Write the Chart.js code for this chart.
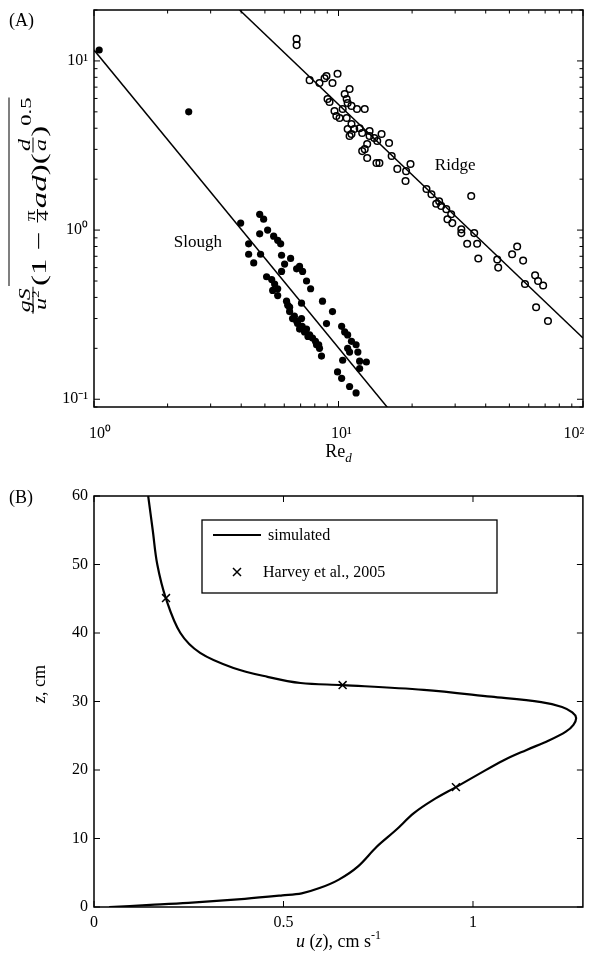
<!DOCTYPE html>
<html>
<head>
<meta charset="utf-8">
<script src="https://cdn.jsdelivr.net/npm/chart.js@4.4.0/dist/chart.umd.min.js"></script>
<style>
  body { margin: 0; background: #fff; width: 590px; height: 956px; overflow: hidden; }
  #topChart { position: absolute; left: 0; top: 0; }
  #bottomChart { position: absolute; left: 0; top: 470px; }
</style>
</head>
<body>
<canvas id="topChart" width="590" height="470"></canvas>
<canvas id="bottomChart" width="590" height="486"></canvas>
<script>
// ---- panel A data (Re_d vs. drag term, log-log) ----
const sloughRe = [1.05, 2.44, 3.98, 4.76, 4.94, 4.76, 5.13, 5.43, 5.64, 5.80, 4.29, 4.80, 4.29, 4.50, 5.85,
  6.37, 6.02, 5.85, 6.93, 7.13, 6.74, 7.40, 7.69, 5.08, 5.33, 5.48, 5.64, 5.38, 5.64, 6.13, 7.06, 8.60,
  6.20, 9.45, 8.93, 6.31, 6.49, 6.74, 7.06, 6.93, 7.26, 7.62, 7.83, 8.13, 8.36, 8.52, 9.91, 10.3, 10.6,
  10.9, 11.3, 11.8, 12.0, 10.9, 11.1, 10.4, 12.2, 13.0, 12.2, 10.3, 11.1, 11.8, 6.31, 6.6, 6.8, 7.1,
  7.4, 7.5, 8.05, 8.3];
const sloughVal = [11.6, 5.0, 1.10, 1.24, 1.16, 0.95, 1.0, 0.92, 0.87, 0.83, 0.83, 0.72, 0.72, 0.64, 0.71,
  0.68, 0.63, 0.57, 0.61, 0.57, 0.59, 0.50, 0.45, 0.53, 0.51, 0.48, 0.45, 0.44, 0.41, 0.38, 0.37, 0.38,
  0.36, 0.33, 0.28, 0.33, 0.30, 0.29, 0.30, 0.26, 0.25, 0.24, 0.23, 0.21, 0.20, 0.18, 0.145, 0.27, 0.25,
  0.24, 0.22, 0.21, 0.19, 0.20, 0.19, 0.17, 0.168, 0.166, 0.152, 0.133, 0.119, 0.109, 0.35, 0.31, 0.28, 0.27,
  0.26, 0.235, 0.22, 0.21];
const ridgeRe = [6.74, 6.74, 7.62, 8.36, 8.77, 8.93, 9.45, 9.91, 9.02, 9.19, 10.6, 11.1, 10.8, 10.9, 11.3,
  11.9, 12.8, 9.63, 9.8, 10.1, 10.8, 10.4, 11.3, 10.9, 11.3, 11.1, 11.6, 12.2, 12.5, 13.4, 13.4, 14.0,
  15.0, 14.4, 16.1, 13.1, 12.8, 12.5, 13.1, 14.3, 14.7, 16.5, 17.4, 18.9, 19.7, 18.8, 22.9, 24.0, 25.1,
  25.8, 26.3, 27.6, 28.9, 27.9, 29.2, 31.8, 31.8, 34.9, 35.9, 33.6, 36.9, 37.3, 44.6, 45.0, 51.3, 53.8,
  56.9, 57.9, 63.7, 65.5, 68.7, 64.3, 71.9];
const ridgeVal = [13.5, 12.4, 7.7, 7.4, 7.9, 8.15, 7.4, 8.4, 5.96, 5.72, 6.38, 6.83, 5.96, 5.64, 5.42,
  5.2, 5.2, 5.06, 4.73, 4.6, 4.6, 5.2, 4.24, 3.96, 3.70, 3.60, 3.96, 4.0, 3.75, 3.85, 3.60, 3.50,
  3.70, 3.36, 3.27, 3.23, 3.01, 2.93, 2.67, 2.49, 2.49, 2.74, 2.30, 2.23, 2.46, 1.95, 1.75, 1.63, 1.43,
  1.48, 1.39, 1.33, 1.24, 1.16, 1.10, 1.01, 0.96, 1.59, 0.96, 0.83, 0.83, 0.68, 0.67, 0.60, 0.72, 0.80,
  0.66, 0.48, 0.54, 0.50, 0.47, 0.35, 0.29];
const sloughFitRe = [1, 16];
const sloughFitVal = [11.6, 0.088];
const ridgeFitRe = [3.94, 100];
const ridgeFitVal = [20, 0.23];
const logLabelTicks = [0.1, 1, 10, 100];

// ---- panel B data (velocity profile) ----
const uSim = [0.143, 0.155, 0.167, 0.19, 0.228, 0.28, 0.368, 0.458, 0.545, 0.656, 0.87, 1.048, 1.18, 1.235,
  1.262, 1.272, 1.265, 1.245, 1.2, 1.14, 1.08, 1.015, 0.955, 0.894, 0.844, 0.796, 0.746, 0.696, 0.646,
  0.597, 0.548, 0.497, 0.398, 0.249, 0.149, 0.04];
const zSim = [60, 55, 50, 45, 40, 37.1, 34.9, 33.6, 32.7, 32.4, 31.7, 30.7, 29.9, 29.2,
  28.4, 27.6, 26.6, 25.6, 24.3, 22.9, 21.4, 19.4, 17.5, 15.6, 13.7, 11.2, 8.8, 5.9, 4.0,
  2.8, 2.0, 1.7, 1.2, 0.6, 0.3, 0];
const uHarvey = [0.19, 0.656, 0.955];
const zHarvey = [45.1, 32.4, 17.5];
const uTicks = [0, 0.5, 1];

const FONT = '"Liberation Serif", "Times New Roman", serif';
const pts = (xs, ys) => xs.map((x, i) => ({ x: x, y: ys[i] }));
const sup = { '-1': '\u207B\u00B9', '0': '\u2070', '1': '\u00B9', '2': '\u00B2' };

function runsWidth(ctx, runs) {
  let w = 0;
  runs.forEach(r => {
    ctx.font = (r.italic ? 'italic ' : '') + r.size + 'px ' + FONT;
    w += ctx.measureText(r.t).width;
  });
  return w;
}
function drawRuns(ctx, runs, x, y) {
  let cx = x;
  runs.forEach(r => {
    ctx.font = (r.italic ? 'italic ' : '') + r.size + 'px ' + FONT;
    ctx.fillText(r.t, cx, y + (r.dy || 0));
    cx += ctx.measureText(r.t).width;
  });
  return cx - x;
}

// box + inward ticks on all four sides, MATLAB style
function logMinors(min, max) {
  const out = [];
  for (let e = Math.floor(Math.log10(min)); e <= Math.ceil(Math.log10(max)); e++) {
    for (let k = 1; k <= 9; k++) {
      const v = k * Math.pow(10, e);
      if (v >= min * 0.999 && v <= max * 1.001) out.push({ v: v, major: k === 1 });
    }
  }
  return out;
}
const boxTicks = {
  id: 'boxTicks',
  afterDatasetsDraw(chart) {
    const { ctx, chartArea: a, scales } = chart;
    const list = s => s.type === 'logarithmic'
      ? logMinors(s.min, s.max)
      : s.ticks.map(t => ({ v: t.value, major: true }));
    ctx.save();
    ctx.strokeStyle = '#000';
    ctx.lineWidth = 1;
    list(scales.x).forEach(t => {
      const p = scales.x.getPixelForValue(t.v);
      const len = t.major ? 6 : 3.5;
      ctx.beginPath();
      ctx.moveTo(p, a.bottom); ctx.lineTo(p, a.bottom - len);
      ctx.moveTo(p, a.top); ctx.lineTo(p, a.top + len);
      ctx.stroke();
    });
    list(scales.y).forEach(t => {
      const p = scales.y.getPixelForValue(t.v);
      const len = t.major ? 6 : 3.5;
      ctx.beginPath();
      ctx.moveTo(a.left, p); ctx.lineTo(a.left + len, p);
      ctx.moveTo(a.right, p); ctx.lineTo(a.right - len, p);
      ctx.stroke();
    });
    ctx.lineWidth = 1.5;
    ctx.strokeRect(a.left, a.top, a.right - a.left, a.bottom - a.top);
    ctx.restore();
  }
};

function fixAxis(size, horizontal) {
  return function (axis) {
    if (horizontal) axis.height = size; else axis.width = size;
    axis.paddingLeft = 0; axis.paddingRight = 0; axis.paddingTop = 0; axis.paddingBottom = 0;
  };
}

// ---- panel A texts ----
const panelAText = {
  id: 'panelAText',
  afterDraw(chart) {
    const { ctx, scales } = chart;
    ctx.save();
    ctx.fillStyle = '#000';
    ctx.textBaseline = 'alphabetic';
    drawRuns(ctx, [{ t: '(A)', size: 18 }], 9, 26);

    // x tick labels 10^0 .. 10^2 (MATLAB puts them slightly off-centre)
    const shift = { 1: 6, 10: 3, 100: -9 };
    logLabelTicks.filter(v => v >= 1).forEach(v => {
      const r = [{ t: '10', size: 16 }, { t: sup[String(Math.round(Math.log10(v)))], size: 16 }];
      const px = scales.x.getPixelForValue(v) + shift[v];
      drawRuns(ctx, r, px - runsWidth(ctx, r) / 2, 438);
    });

    // annotations
    ctx.font = '17px ' + FONT;
    ctx.textAlign = 'center';
    ctx.fillText('Slough', scales.x.getPixelForValue(2.66), scales.y.getPixelForValue(0.86) + 6);
    ctx.fillText('Ridge', scales.x.getPixelForValue(30), scales.y.getPixelForValue(2.46) + 6);
    ctx.textAlign = 'left';

    // x title: Re_d
    const xr = [{ t: 'Re', size: 18 }, { t: 'd', size: 13, italic: true, dy: 5 }];
    const cx = (chart.chartArea.left + chart.chartArea.right) / 2;
    drawRuns(ctx, xr, cx - runsWidth(ctx, xr) / 2, 457);

    // y title: gS/u^2 (1 - pi/4 ad)(d/a)^0.5 with an overline, rotated and stretched
    ctx.translate(0, 206);
    ctx.rotate(-Math.PI / 2);
    ctx.scale(1.5, 1);
    const items = [
      { frac: true, num: [{ t: 'gS', size: 16, italic: true }], den: [{ t: 'u', size: 16, italic: true }, { t: '2', size: 10, dy: -7 }], nb: 30, db: 46, bar: 33 },
      { runs: [{ t: '(1 \u2212 ', size: 22 }], over: 'start' },
      { frac: true, num: [{ t: '\u03C0', size: 14 }], den: [{ t: '4', size: 14 }], nb: 35, db: 48, bar: 37.5 },
      { runs: [{ t: 'ad', size: 22, italic: true }, { t: ')', size: 22 }] },
      { runs: [{ t: '(', size: 22 }] },
      { frac: true, num: [{ t: 'd', size: 16, italic: true }], den: [{ t: 'a', size: 16, italic: true }], nb: 30, db: 46, bar: 33 },
      { runs: [{ t: ')', size: 22 }] },
      { runs: [{ t: '0.5', size: 15, dy: -15 }], over: 'end' }
    ];
    const widthOf = it => it.frac
      ? Math.max(runsWidth(ctx, it.num), runsWidth(ctx, it.den)) + 3
      : runsWidth(ctx, it.runs);
    const total = items.reduce((s, it) => s + widthOf(it), 0);
    let u = -total / 2;
    let oStart = 0, oEnd = 0;
    items.forEach(it => {
      const w = widthOf(it);
      if (it.over === 'start') oStart = u;
      if (it.frac) {
        const wn = runsWidth(ctx, it.num), wd = runsWidth(ctx, it.den);
        drawRuns(ctx, it.num, u + (w - wn) / 2, it.nb);
        drawRuns(ctx, it.den, u + (w - wd) / 2, it.db);
        ctx.lineWidth = 1;
        ctx.beginPath();
        ctx.moveTo(u + 0.5, it.bar); ctx.lineTo(u + w - 0.5, it.bar);
        ctx.stroke();
      } else {
        drawRuns(ctx, it.runs, u, 46);
      }
      u += w;
      if (it.over === 'end') oEnd = u;
    });
    ctx.lineWidth = 1;
    ctx.beginPath();
    ctx.moveTo(oStart, 9); ctx.lineTo(oEnd, 9);
    ctx.stroke();
    ctx.restore();
  }
};

new Chart(document.getElementById('topChart'), {
  type: 'scatter',
  data: {
    datasets: [
      { label: 'Slough', data: pts(sloughRe, sloughVal), pointRadius: 3.6, pointBackgroundColor: '#000', pointBorderColor: '#000', pointBorderWidth: 0 },
      { label: 'Ridge', data: pts(ridgeRe, ridgeVal), pointRadius: 3.3, pointBackgroundColor: 'rgba(0,0,0,0)', pointBorderColor: '#000', pointBorderWidth: 1.5 },
      { label: 'Slough fit', data: pts(sloughFitRe, sloughFitVal), showLine: true, pointRadius: 0, borderColor: '#000', borderWidth: 1.5 },
      { label: 'Ridge fit', data: pts(ridgeFitRe, ridgeFitVal), showLine: true, pointRadius: 0, borderColor: '#000', borderWidth: 1.5 }
    ]
  },
  options: {
    responsive: false,
    animation: false,
    layout: { padding: { top: 10, right: 7, left: 0, bottom: 0 } },
    plugins: { legend: { display: false }, tooltip: { enabled: false } },
    scales: {
      x: {
        type: 'logarithmic', min: 1, max: 100,
        grid: { display: false, drawTicks: false }, border: { display: false },
        afterBuildTicks: s => { s.ticks = logLabelTicks.filter(v => v >= 1).map(v => ({ value: v })); },
        ticks: { display: false },
        afterFit: fixAxis(63, true)
      },
      y: {
        type: 'logarithmic', min: 0.09, max: 20,
        grid: { display: false, drawTicks: false }, border: { display: false },
        afterBuildTicks: s => { s.ticks = logLabelTicks.filter(v => v <= 10).map(v => ({ value: v })); },
        ticks: {
          autoSkip: false, padding: 6, color: '#000',
          font: { family: FONT, size: 16 },
          callback: v => '10' + sup[String(Math.round(Math.log10(v)))]
        },
        afterFit: fixAxis(94, false)
      }
    }
  },
  plugins: [boxTicks, panelAText]
});

// ---- panel B ----
const panelBText = {
  id: 'panelBText',
  afterDraw(chart) {
    const { ctx, data } = chart;
    ctx.save();
    ctx.fillStyle = '#000';
    drawRuns(ctx, [{ t: '(B)', size: 18 }], 9, 33);

    // legend box
    ctx.fillStyle = '#fff';
    ctx.fillRect(202, 50, 295, 73);
    ctx.strokeStyle = '#000';
    ctx.lineWidth = 1.3;
    ctx.strokeRect(202, 50, 295, 73);
    ctx.lineWidth = 2.2;
    ctx.beginPath();
    ctx.moveTo(213, 65); ctx.lineTo(261, 65);
    ctx.stroke();
    ctx.lineWidth = 1.5;
    ctx.beginPath();
    ctx.moveTo(233, 98); ctx.lineTo(241, 106);
    ctx.moveTo(241, 98); ctx.lineTo(233, 106);
    ctx.stroke();
    ctx.fillStyle = '#000';
    drawRuns(ctx, [{ t: data.datasets[0].label, size: 16 }], 268, 70);
    drawRuns(ctx, [{ t: data.datasets[1].label, size: 16 }], 263, 107);

    // x title
    const xr = [{ t: 'u', size: 18, italic: true }, { t: ' (', size: 18 }, { t: 'z', size: 18, italic: true },
      { t: '), cm s', size: 18 }, { t: '-1', size: 12, dy: -8 }];
    const cx = (chart.chartArea.left + chart.chartArea.right) / 2;
    drawRuns(ctx, xr, cx - runsWidth(ctx, xr) / 2, 477);

    // y title
    ctx.translate(0, 214);
    ctx.rotate(-Math.PI / 2);
    const yr = [{ t: 'z', size: 18, italic: true }, { t: ', cm', size: 18 }];
    drawRuns(ctx, yr, -runsWidth(ctx, yr) / 2, 45);
    ctx.restore();
  }
};

new Chart(document.getElementById('bottomChart'), {
  type: 'scatter',
  data: {
    datasets: [
      { label: 'simulated', data: pts(uSim, zSim), showLine: true, tension: 0.35, pointRadius: 0, borderColor: '#000', borderWidth: 2.2 },
      { label: 'Harvey et al., 2005', data: pts(uHarvey, zHarvey), pointStyle: 'crossRot', pointRadius: 5.6, pointBorderColor: '#000', pointBorderWidth: 1.5 }
    ]
  },
  options: {
    responsive: false,
    animation: false,
    layout: { padding: { top: 26, right: 7, left: 0, bottom: 0 } },
    plugins: { legend: { display: false }, tooltip: { enabled: false } },
    scales: {
      x: {
        type: 'linear', min: 0, max: 1.29,
        grid: { display: false, drawTicks: false }, border: { display: false },
        afterBuildTicks: s => { s.ticks = uTicks.map(v => ({ value: v })); },
        ticks: { autoSkip: false, maxRotation: 0, padding: 6, color: '#000', font: { family: FONT, size: 16 }, callback: v => String(v) },
        afterFit: fixAxis(49, true)
      },
      y: {
        type: 'linear', min: 0, max: 60,
        grid: { display: false, drawTicks: false }, border: { display: false },
        ticks: { stepSize: 10, padding: 6, color: '#000', font: { family: FONT, size: 16 } },
        afterFit: fixAxis(94, false)
      }
    }
  },
  plugins: [boxTicks, panelBText]
});
</script>
</body>
</html>
